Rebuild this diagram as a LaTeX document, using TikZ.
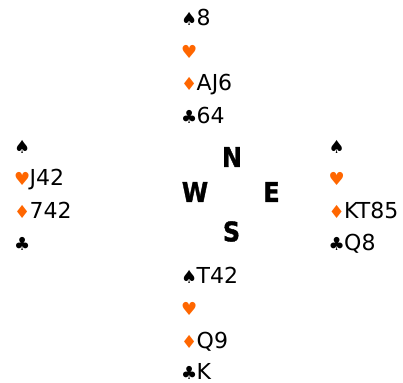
\documentclass[tikz,border=0pt]{standalone}
\usepackage{fontspec}
\setmainfont{DejaVu Sans}
\newfontfamily\compassfont{DejaVu Sans Bold}[FakeBold=1.5]
\definecolor{suitorange}{RGB}{255,102,0}
\newcommand\suitbox[2]{\makebox[15.5pt][l]{\fontsize{18}{20}\selectfont\color{#1}#2}}
\newcommand\suitS{\suitbox{black}{♠}}
\newcommand\suitH{\suitbox{suitorange}{♥}}
\newcommand\suitD{\suitbox{suitorange}{♦}}
\newcommand\suitC{\suitbox{black}{♣}}
\tikzset{
  hand/.style={anchor=base west, inner sep=0pt, font=\fontsize{22}{24}\selectfont, text=black},
  compass/.style={anchor=center, inner sep=0pt, font=\compassfont\fontsize{27}{29}\selectfont, text=black, xscale=0.88, transform shape}
}
\begin{document}
\begin{tikzpicture}[x=1pt,y=1pt]
\useasboundingbox (0,0) rectangle (403,-382);
% North
\node[hand] (n1) at (181,-26) {\suitS 8};
\node[hand] (n2) at (181,-58.5) {\suitH};
\node[hand] (n3) at (181,-91) {\suitD AJ6};
\node[hand] (n4) at (181,-123.5) {\suitC 64};
% West
\node[hand] (w1) at (14,-153) {\suitS};
\node[hand] (w2) at (14,-185.5) {\suitH J42};
\node[hand] (w3) at (14,-218) {\suitD 742};
\node[hand] (w4) at (14,-250.5) {\suitC};
% East
\node[hand] (e1) at (328.5,-153) {\suitS};
\node[hand] (e2) at (328.5,-185.5) {\suitH};
\node[hand] (e3) at (328.5,-218) {\suitD KT85};
\node[hand] (e4) at (328.5,-250.5) {\suitC Q8};
% South
\node[hand] (s1) at (181,-283) {\suitS T42};
\node[hand] (s2) at (181,-315.5) {\suitH};
\node[hand] (s3) at (181,-348) {\suitD Q9};
\node[hand] (s4) at (181,-379.5) {\suitC K};
% Compass
\node[compass] (N) at (232,-157) {N};
\node[compass] (W) at (195,-192) {W};
\node[compass] (E) at (271.5,-192) {E};
\node[compass] (S) at (231.5,-231.5) {S};
\end{tikzpicture}
\end{document}
